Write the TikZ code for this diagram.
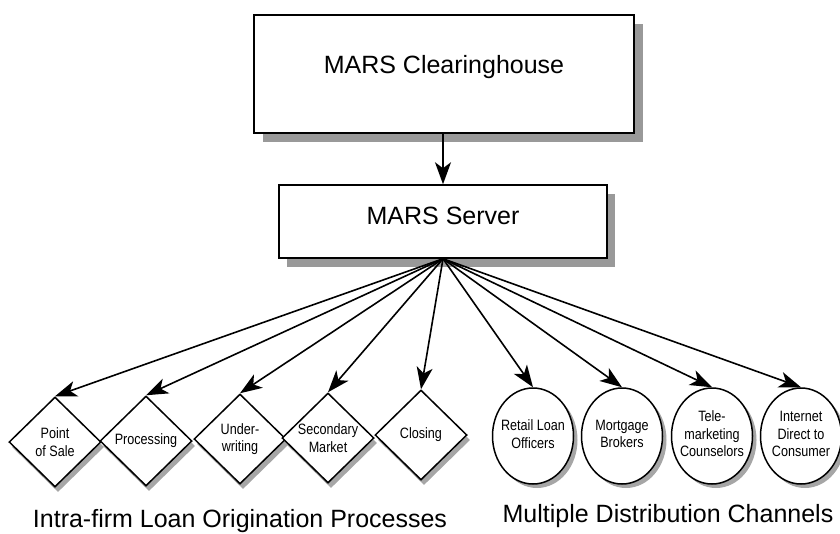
\documentclass[tikz,border=0pt]{standalone}
\usepackage{fontspec}
\setmainfont{Liberation Sans}
\newfontfamily\narrowsans[FakeStretch=0.84]{Liberation Sans}
\usetikzlibrary{arrows.meta,shapes.geometric}
\tikzset{
  boxnode/.style={draw=black, fill=white, line width=1.5pt, rectangle, inner sep=0pt},
  boxshade/.style={fill=black!40, draw=none, rectangle, inner sep=0pt},
  procnode/.style={draw=black, fill=white, line width=1.5pt, diamond, inner sep=0pt, minimum width=92pt, minimum height=90pt},
  procshade/.style={fill=black!35, draw=none, diamond, inner sep=0pt, minimum width=92pt, minimum height=90pt},
  chanode/.style={draw=black, fill=white, line width=1.5pt, ellipse, inner sep=0pt, minimum width=81pt, minimum height=96pt},
  chashade/.style={fill=black!35, draw=none, ellipse, inner sep=0pt, minimum width=81pt, minimum height=96pt},
  smalltext/.style={font=\narrowsans\fontsize{15}{17.5}\selectfont, align=center, inner sep=0pt},
  bigtext/.style={font=\fontsize{25}{29}\selectfont, inner sep=0pt},
  feed/.style={-{Stealth[length=22pt,width=16pt,inset=6pt]}, line width=1.6pt},
}
\begin{document}
\begin{tikzpicture}[x=1pt,y=-1pt]
\useasboundingbox (0,0) rectangle (840,533);

% top boxes with their offset shading
\node[boxshade, minimum width=380pt, minimum height=118pt] at (453,83) (chs) {};
\node[boxnode, minimum width=380pt, minimum height=118pt] at (444,74) (ch) {};
\node[bigtext] at (444,67) (chtext) {MARS Clearinghouse};

\node[boxshade, minimum width=328pt, minimum height=73pt] at (451,230) (srvs) {};
\node[boxnode, minimum width=328pt, minimum height=73pt] at (443,221.5) (srv) {};
\node[bigtext] at (443,216) (srvtext) {MARS Server};

\draw[feed] (ch.south -| srv.north) -- (srv.north);
\coordinate (fan) at (srv.south);

% loan origination processes (diamonds)
\foreach \n/\x/\y/\t in {
  pos/55/442/{Point\\of Sale},
  proc/146/441/{Processing},
  uw/240/439/{Under-\\writing},
  sec/328/438/{Secondary\\Market},
  clo/421/435/{Closing}}{
  \node[procshade] at (\x+3,\y+5) (\n s) {};
  \node[procnode] at (\x,\y) (\n) {};
  \node[smalltext] at (\x,\y) (\n t) {\t};
}

% distribution channels (circles)
\foreach \n/\x/\t in {
  rlo/533/{Retail Loan\\Officers},
  mb/622/{Mortgage\\Brokers},
  tm/712/{Tele-\\marketing\\Counselors},
  idc/801/{Internet\\Direct to\\Consumer}}{
  \node[chashade] at (\x+4,436+4) (\n s) {};
  \node[chanode] at (\x,436) (\n) {};
  \node[smalltext] at (\x,434) (\n t) {\t};
}

% fan of connectors from the server
\foreach \n in {pos,proc,uw,sec,clo,rlo,mb,tm,idc}{
  \draw[feed] (fan) -- (\n.north);
}

\node[bigtext, anchor=base] at (240,527) (intra) {Intra-firm Loan Origination Processes};
\node[bigtext, anchor=base] at (668,522) (multi) {Multiple Distribution Channels};
\end{tikzpicture}
\end{document}
